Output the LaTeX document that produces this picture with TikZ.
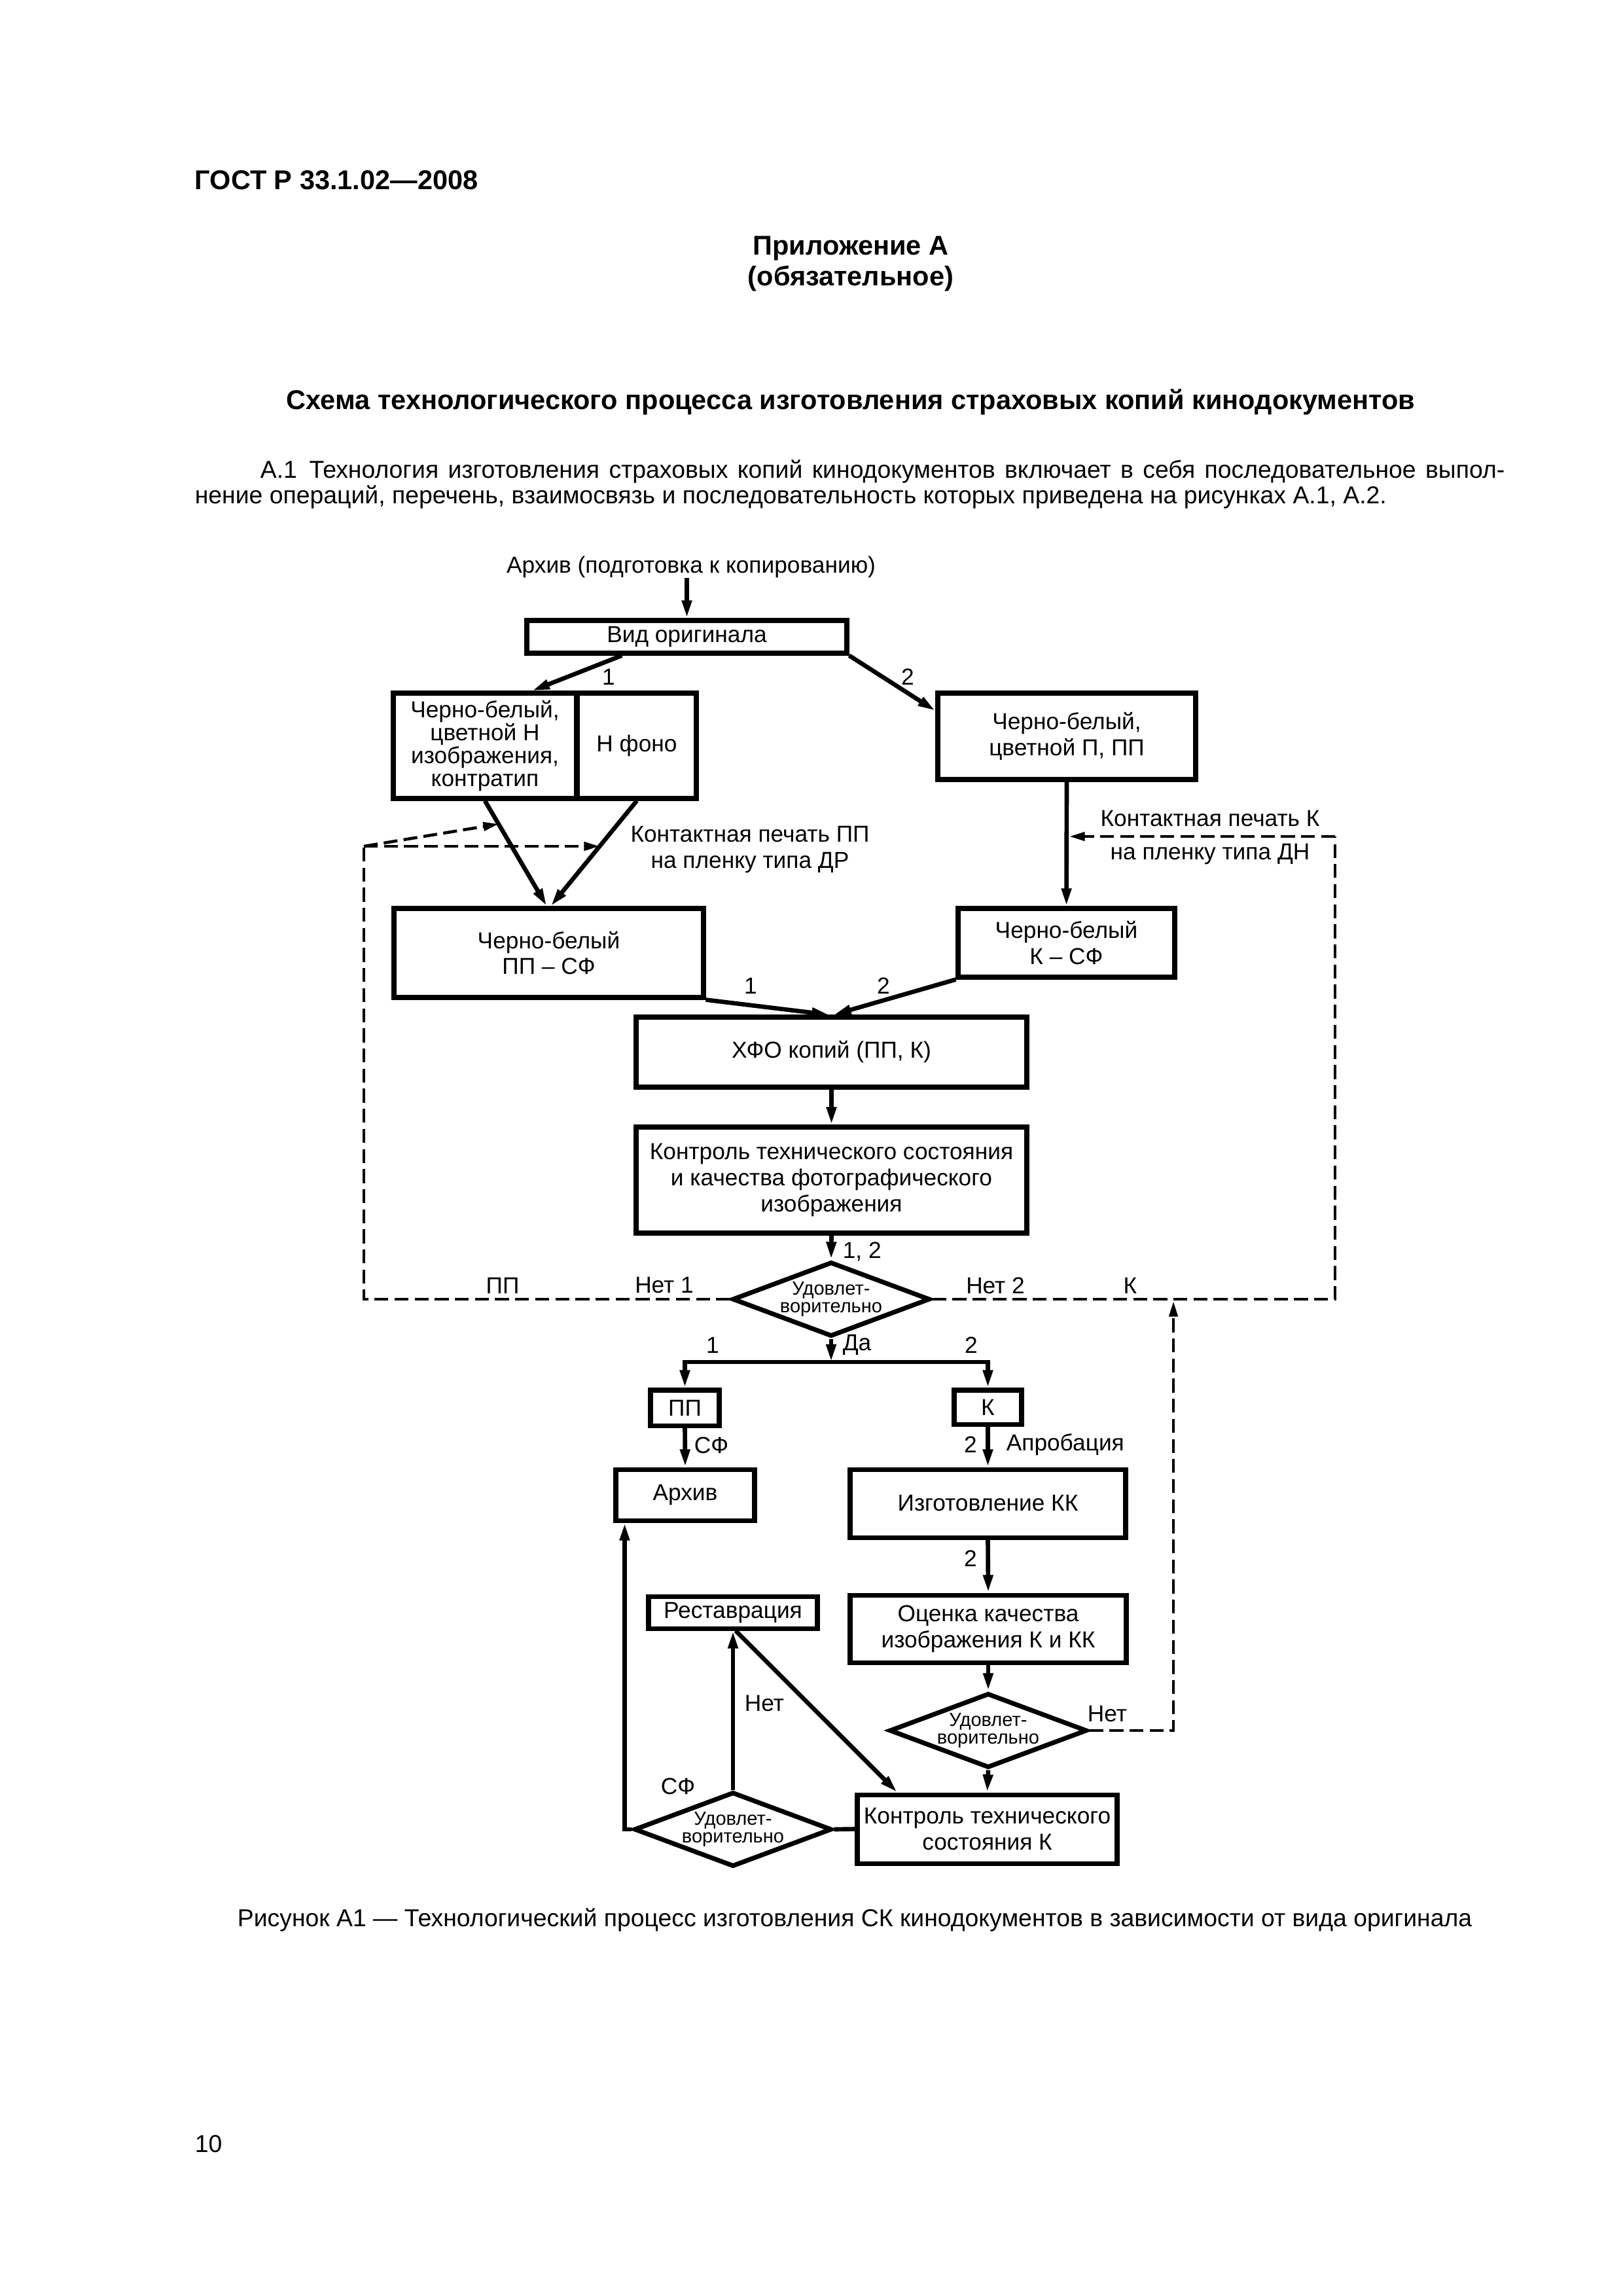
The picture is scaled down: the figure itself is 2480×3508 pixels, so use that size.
\documentclass[tikz,border=0pt]{standalone}
\usepackage{fontspec}
\setmainfont{Liberation Sans}
\usetikzlibrary{arrows.meta,shapes.geometric,calc}
\def\pxu{0.0846667mm}
\newcommand\dgf{\fontsize{8.5}{9.6}\selectfont}
\newcommand\dmf{\fontsize{7}{6.6}\selectfont}
\newcommand\hdf{\fontsize{10}{12}\selectfont}
\newcommand\txf{\fontsize{9}{11}\selectfont}
\begin{document}
\begin{tikzpicture}[x=0.0846667mm,y=-0.0846667mm,
  bx/.style 2 args={draw,line width=1.7pt,minimum width=#1*\pxu,minimum height=#2*\pxu,inner sep=0pt,align=center,font=\dgf},
  dm/.style={diamond,draw,line width=1.7pt,aspect=2.65,minimum width=302*\pxu,minimum height=114*\pxu,inner sep=0pt,align=center,font=\dmf},
  arr/.style={line width=1.6pt,-{Triangle[length=2.3mm,width=1.2mm]}},
  ln/.style={line width=1.6pt},
  dsh/.style={line width=1.1pt,dash pattern=on 1.8mm off 0.8mm},
  darr/.style={dsh,-{Triangle[length=2mm,width=1.1mm]}},
  lab/.style={font=\dgf,inner sep=0pt}
]
\useasboundingbox (0,0) rectangle (2480,3508);
% header
\node[anchor=west,font=\hdf\bfseries,inner sep=0pt] (gost) at (297,275) {ГОСТ Р 33.1.02—2008};
\node[font=\hdf\bfseries,inner sep=0pt] (pril) at (1300,380) {Приложение А};
\node[font=\hdf\bfseries,inner sep=0pt] (obyaz) at (1300,426) {(обязательное)};
\node[font=\hdf\bfseries,inner sep=0pt] (title) at (1300,614) {Схема технологического процесса изготовления страховых копий кинодокументов};
\node[anchor=west,font=\txf,inner sep=0pt] (par1) at (397,721) {\makebox[161.0mm][s]{А.1\enspace Технология изготовления страховых копий кинодокументов включает в себя последовательное выпол-}};
\node[anchor=west,font=\txf,inner sep=0pt] (par2) at (297,760) {нение операций, перечень, взаимосвязь и последовательность которых приведена на рисунках А.1, А.2.};
\node[font=\txf,inner sep=0pt] (cap) at (1306,2933) {Рисунок А1 — Технологический процесс изготовления СК кинодокументов в зависимости от вида оригинала};
\node[anchor=west,font=\txf,inner sep=0pt] (pnum) at (297,3276) {10};
% nodes
\node[lab] (arch) at (1056,866) {Архив (подготовка к копированию)};
\node[bx={489}{50}] (vid) at (1049.5,973) {Вид оригинала};
\node[bx={280}{161},font=\fontsize{8.5}{8.5}\selectfont] (lefta) at (741,1139.5) {Черно-белый,\\цветной Н\\изображения,\\контратип};
\node[bx={182}{161}] (leftb) at (973,1139.5) {Н фоно};
\node[bx={394}{132}] (rbox) at (1630,1125) {Черно-белый,\\цветной П, ПП};
\node[bx={473}{136}] (ppsf) at (838.5,1456) {Черно-белый\\ПП – СФ};
\node[bx={331}{105}] (ksf) at (1629.5,1440.5) {Черно-белый\\К – СФ};
\node[bx={597}{107}] (hfo) at (1270.5,1607.5) {ХФО копий (ПП, К)};
\node[bx={597}{162}] (ctrl) at (1270.5,1803) {Контроль технического состояния\\и качества фотографического\\изображения};
\node[dm] (d1) at (1270,1985) {Удовлет-\\ворительно};
\node[bx={105}{54}] (pp) at (1046.5,2151) {ПП};
\node[bx={103}{52}] (kk) at (1509.5,2150) {К};
\node[bx={212}{78}] (arhiv) at (1047,2284) {Архив};
\node[bx={421}{104}] (izg) at (1509.5,2297) {Изготовление КК};
\node[bx={422}{103}] (ocen) at (1510,2488.5) {Оценка качества\\изображения К и КК};
\node[dm] (d2) at (1510,2644) {Удовлет-\\ворительно};
\node[bx={397}{105}] (kontr) at (1508.5,2794.5) {Контроль технического\\состояния К};
\node[bx={258}{49}] (rest) at (1120,2463.5) {Реставрация};
\node[dm] (d3) at (1120,2795) {Удовлет-\\ворительно};
% connectors
\draw[arr] (arch.south -| vid.north) -- (vid.north);
\draw[arr] ($(vid.south west)!0.3!(vid.south east)$) -- ($(lefta.north west)!0.75!(lefta.north east)$);
\node[lab] (l1) at (930,1034) {1};
\draw[arr] (vid.south east) -- ($(rbox.north west)!0.22!(rbox.south west)$);
\node[lab] (l2) at (1387,1034) {2};
\draw[arr] (lefta.south) -- ($(ppsf.north)+(-3,0)$);
\draw[arr] (leftb.south) -- ($(ppsf.north)+(3,0)$);
\coordinate (dc1) at (556,1293);
\coordinate (hitB) at (916,1293);
\coordinate (hitA) at (762,1259);
\draw[darr] (dc1) -- (hitB);
\draw[darr] (dc1) -- (hitA);
\draw[dsh] (d1.west) -| (dc1);
\node[lab] (kpp1) at (1146,1275) {Контактная печать ПП};
\node[lab] (kpp2) at (1146,1318) {на пленку типа ДР};
\draw[arr] (rbox.south) -- (ksf.north);
\coordinate (dc2) at (2040,1278);
\draw[darr] (dc2) -- ($(rbox.south |- dc2)+(4,0)$);
\draw[dsh] (d1.east) -| (dc2);
\node[lab] (kk1) at (1849,1251) {Контактная печать К};
\node[lab] (kk2) at (1849,1305) {на пленку типа ДН};
\draw[arr] (ppsf.south east) -- ($(hfo.north)+(-3,0)$);
\draw[arr] (ksf.south west) -- ($(hfo.north)+(3,0)$);
\node[lab] (l3) at (1147,1506) {1};
\node[lab] (l4) at (1350,1506) {2};
\draw[arr] (hfo.south) -- (ctrl.north);
\draw[arr] (ctrl.south) -- (d1.north);
\node[lab,anchor=west] (l12) at (1287,1912) {1, 2};
\node[lab] (lpp) at (768,1964) {ПП};
\node[lab] (lnet1) at (1015,1964) {Нет 1};
\node[lab] (lnet2) at (1521,1964) {Нет 2};
\node[lab] (lk) at (1727,1964) {К};
\coordinate (j1) at (1270,2081);
\draw[arr] (d1.south) -- (j1);
\draw[arr] (j1) -| (pp.north);
\draw[arr] (j1) -| (kk.north);
\node[lab,anchor=west] (lda) at (1287,2055) {Да};
\node[lab] (l5) at (1089,2055) {1};
\node[lab] (l6) at (1484,2055) {2};
\draw[arr] (pp.south) -- (arhiv.north);
\node[lab] (lsf1) at (1087,2208) {СФ};
\draw[arr] (kk.south) -- (izg.north);
\node[lab] (l7) at (1483,2207) {2};
\node[lab,anchor=west] (lapr) at (1537,2207) {Апробация};
\draw[arr] (izg.south) -- (ocen.north);
\node[lab] (l8) at (1483,2381) {2};
\draw[arr] (ocen.south) -- (d2.north);
\draw[arr] (d2.south) -- (kontr.north);
\coordinate (up1) at (1793,1988);
\draw[darr] (d2.east) -| (up1);
\node[lab] (lnet3) at (1692,2618) {Нет};
\draw[ln] (kontr.west) -- (d3.east);
\draw[arr] (d3.north) -- (rest.south);
\node[lab] (lnet4) at (1168,2602) {Нет};
\draw[arr] ($(rest.south)+(4,0)$) -- ($(kontr.north west)!0.16!(kontr.north east)$);
\draw[arr] (d3.west) -| ($(arhiv.south west)+(17,0)$);
\node[lab] (lsf2) at (1036,2729) {СФ};
\end{tikzpicture}
\end{document}
